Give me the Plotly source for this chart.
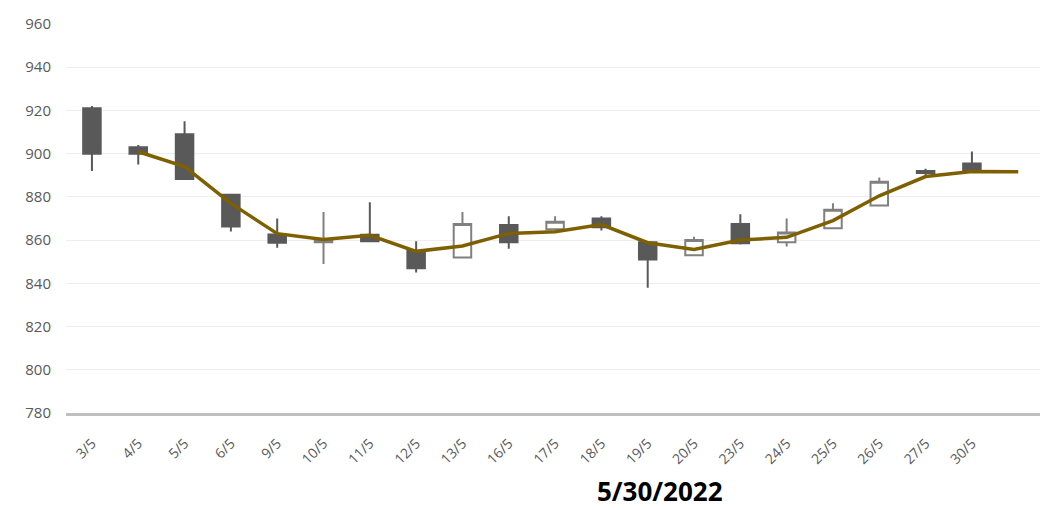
import plotly.graph_objects as go

dates = ["3/5", "4/5", "5/5", "6/5", "9/5", "10/5", "11/5", "12/5", "13/5", "16/5",
         "17/5", "18/5", "19/5", "20/5", "23/5", "24/5", "25/5", "26/5", "27/5", "30/5"]
open_ = [921, 903, 909, 881, 862.6, 859, 862.5, 855, 852, 867, 865, 870, 859, 853, 867.5, 859, 865.5, 876, 892, 895.5]
high = [922, 904, 915, 881, 870, 873, 877.5, 859.5, 873, 871, 871, 871, 859, 861.5, 872, 870, 877, 889, 893, 901]
low = [892, 895, 888, 864, 856.5, 849, 859.5, 845, 852, 856, 865, 864.5, 838, 853, 858, 857, 865.5, 876, 890, 892]
close = [900, 900, 888.3, 866.3, 858.8, 860, 859.5, 847, 867.5, 859, 868.5, 866, 851, 860, 858.5, 863.5, 874, 887, 891, 892]
ma_x = list(range(1, 21))
ma_vals = [900.9, 894, 877, 863, 860.3, 862.2, 854.8, 857.3, 863.1, 863.9,
           867.2, 858.8, 855.7, 860, 861.3, 869, 880.5, 889.4, 891.8, 891.6]
yticks = [780, 800, 820, 840, 860, 880, 900, 920, 940, 960]
title_text = "5/30/2022"

# page body has an 8px margin, so the figure is sized/offset to compensate
W, H = 1037, 502
ML, MR, MT, MB = 58, 5, 13, 97
plot_w = W - ML - MR
plot_h = H - MT - MB

fig = go.Figure()
fig.add_trace(go.Candlestick(
    x=list(range(len(dates))), open=open_, high=high, low=low, close=close,
    increasing=dict(fillcolor="#ffffff", line=dict(color="#808080", width=2)),
    decreasing=dict(fillcolor="#595959", line=dict(color="#595959", width=2)),
    whiskerwidth=0, hoverinfo="skip", showlegend=False,
))
fig.add_trace(go.Scatter(
    x=ma_x, y=ma_vals, mode="lines",
    line=dict(color="#7f6000", width=3.5), hoverinfo="skip", showlegend=False,
))

fig.update_layout(
    width=W, height=H,
    margin=dict(l=ML, r=MR, t=MT, b=MB),
    paper_bgcolor="white", plot_bgcolor="white",
    boxgap=0.46,
    font=dict(family="Open Sans", color="#595959"),
    annotations=[dict(
        text="<b>" + title_text + "</b>", xref="paper", yref="paper",
        x=(660 - 8 - ML) / plot_w, y=-(492 - 413) / plot_h,
        xanchor="center", yanchor="middle",
        showarrow=False, font=dict(size=26, color="#000000", family="Open Sans"),
    )],
)
fig.update_xaxes(
    range=[-0.56, 20.47], tickmode="array", tickvals=list(range(len(dates))),
    ticktext=dates, tickangle=-45, tickfont=dict(size=14, color="#595959"),
    showgrid=False, zeroline=False, showline=True, linecolor="#bfbfbf", linewidth=2.5,
    rangeslider=dict(visible=False), ticks="", ticklabelstandoff=14,
)
fig.update_yaxes(
    range=[780, 960], tickmode="array", tickvals=yticks,
    tickfont=dict(size=15, color="#595959"),
    showgrid=True, gridcolor="#eeeeee", gridwidth=1, zeroline=False,
    showline=False, ticks="", ticklabelstandoff=14,
)

fig.write_html("out.html")
